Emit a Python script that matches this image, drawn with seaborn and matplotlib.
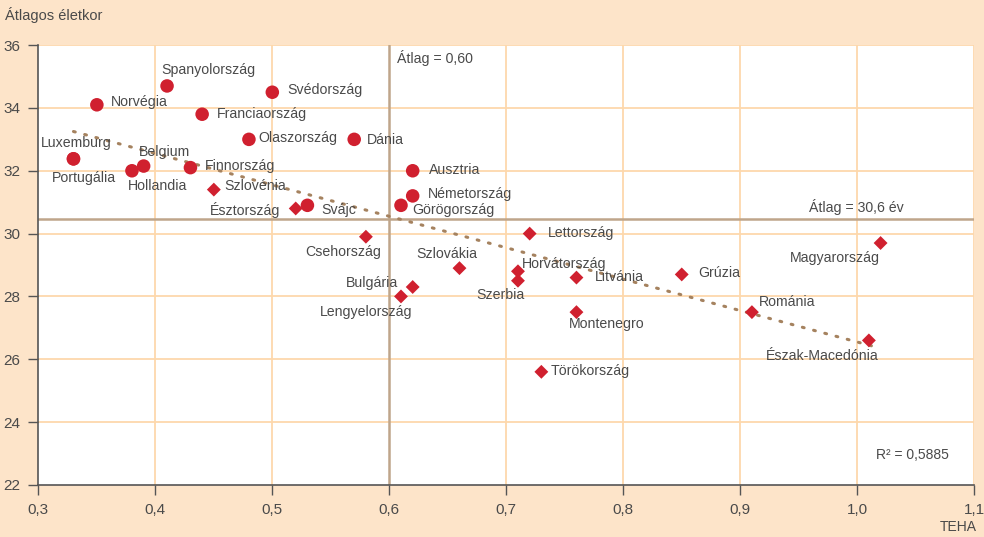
import numpy as np
import pandas as pd
import matplotlib
matplotlib.use("Agg")
import matplotlib.pyplot as plt
import seaborn as sns

# Körrel jelölt országok
circle_names = ["Norvégia", "Spanyolország", "Svédország", "Franciaország", "Olaszország",
                "Dánia", "Luxemburg", "Portugália", "Belgium", "Hollandia", "Finnország",
                "Svájc", "Ausztria", "Németország", "Görögország"]
circle_teha = [0.35, 0.41, 0.50, 0.44, 0.48, 0.57, 0.33, 0.33, 0.39, 0.38, 0.43,
               0.53, 0.62, 0.62, 0.61]
circle_age = [34.1, 34.7, 34.5, 33.8, 33.0, 33.0, 32.38, 32.38, 32.15, 32.0, 32.1,
              30.9, 32.0, 31.2, 30.9]

# Rombusszal jelölt országok
diamond_names = ["Szlovénia", "Észtország", "Csehország", "Lettország", "Szlovákia",
                 "Horvátország", "Szerbia", "Bulgária", "Lengyelország", "Litvánia",
                 "Montenegro", "Grúzia", "Magyarország", "Románia", "Észak-Macedónia",
                 "Törökország"]
diamond_teha = [0.45, 0.52, 0.58, 0.72, 0.66, 0.71, 0.71, 0.62, 0.61, 0.76,
                0.76, 0.85, 1.02, 0.91, 1.01, 0.73]
diamond_age = [31.4, 30.8, 29.9, 30.0, 28.9, 28.8, 28.5, 28.3, 28.0, 28.6,
               27.5, 28.7, 29.7, 27.5, 26.6, 25.6]

mean_teha = 0.60
mean_age_line = 30.45
trend_x = [0.33, 1.015]
trend_y = [33.25, 26.4]

x_ticks = [0.3, 0.4, 0.5, 0.6, 0.7, 0.8, 0.9, 1.0, 1.1]
x_labels = ["0,3", "0,4", "0,5", "0,6", "0,7", "0,8", "0,9", "1,0", "1,1"]
y_ticks = [22, 24, 26, 28, 30, 32, 34, 36]

# címke eltolások (pixel), igazítás
label_pos = {
    "Norvégia": (14, 3, "left"), "Spanyolország": (-6, 16, "left"),
    "Svédország": (15, 2, "left"), "Franciaország": (15, 0, "left"),
    "Olaszország": (9, 1, "left"), "Dánia": (13, -1, "left"),
    "Luxemburg": (-33, 16, "left"), "Portugália": (-22, -19, "left"),
    "Belgium": (-5, 14, "left"), "Hollandia": (-4, -15, "left"),
    "Finnország": (14, 2, "left"), "Svájc": (14, -5, "left"),
    "Ausztria": (16, 1, "left"), "Németország": (15, 2, "left"),
    "Görögország": (11, -5, "left"), "Szlovénia": (10, 4, "left"),
    "Észtország": (-15, -2, "right"), "Csehország": (-23, -15, "center"),
    "Lettország": (18, 1, "left"), "Szlovákia": (-13, 14, "center"),
    "Horvátország": (4, 7, "left"), "Szerbia": (-18, -14, "center"),
    "Bulgária": (-15, 4, "right"), "Lengyelország": (-35, -16, "center"),
    "Litvánia": (18, 1, "left"), "Montenegro": (30, -12, "center"),
    "Grúzia": (17, 1, "left"), "Magyarország": (-1, -15, "right"),
    "Románia": (7, 10, "left"), "Észak-Macedónia": (-47, -16, "center"),
    "Törökország": (9, 1, "left"),
}

df = pd.concat([
    pd.DataFrame({"orszag": circle_names, "teha": circle_teha, "kor": circle_age, "jel": "kor"}),
    pd.DataFrame({"orszag": diamond_names, "teha": diamond_teha, "kor": diamond_age, "jel": "romb"}),
], ignore_index=True)

BG = "#FDE4C9"
GRID = "#FDD8AC"
MEANC = "#BFA58A"
RED = "#D0202F"
TXT = "#4A4A4A"

sns.set_style("white")
plt.rcParams["font.family"] = ["Liberation Sans", "DejaVu Sans"]

fig = plt.figure(figsize=(9.84, 5.37), dpi=100, facecolor=BG)
ax = fig.add_axes([0.039, 0.097, 0.951, 0.819])
ax.set_facecolor("white")

ax.set_xlim(0.3, 1.1)
ax.set_ylim(22, 36)
ax.set_xticks(x_ticks)
ax.set_xticklabels(x_labels)
ax.set_yticks(y_ticks)
for t in x_ticks[1:]:
    if abs(t - mean_teha) > 1e-6:
        ax.axvline(t, color=GRID, lw=1.3, zorder=0)
for t in y_ticks[1:]:
    ax.axhline(t, color=GRID, lw=1.3, zorder=0)

ax.axvline(mean_teha, color=MEANC, lw=1.8, zorder=1)
ax.axhline(mean_age_line, color=MEANC, lw=1.8, zorder=1)

ax.plot(trend_x, trend_y, color="#A5825F", lw=2.2, ls=(0, (0.6, 3.2)),
        dash_capstyle="round", zorder=2)

sns.scatterplot(data=df, x="teha", y="kor", style="jel", markers={"kor": "o", "romb": "D"},
                size="jel", sizes={"kor": 95, "romb": 50}, color=RED, edgecolor="none",
                legend=False, ax=ax, zorder=3)

for _, r in df.iterrows():
    dx, dy, ha = label_pos[r["orszag"]]
    ax.annotate(r["orszag"], (r["teha"], r["kor"]), xytext=(dx, dy),
                textcoords="offset pixels", ha=ha, va="center",
                fontsize=10.2, color=TXT, zorder=4)

ax.text(0.607, 35.6, "Átlag = 0,60", fontsize=10.2, color=TXT, va="center")
ax.text(1.04, 30.85, "Átlag = 30,6 év", fontsize=10.2, color=TXT, va="center", ha="right")
ax.text(1.078, 22.95, "R² = 0,5885", fontsize=10, color=TXT, va="center", ha="right")

for s in ["top", "right"]:
    ax.spines[s].set_visible(False)
for s in ["left", "bottom"]:
    ax.spines[s].set_color("#555555")
    ax.spines[s].set_linewidth(1.2)

ax.tick_params(axis="both", direction="out", length=7, width=1, color="#555555",
               labelcolor=TXT, labelsize=11, left=True, bottom=True)
ax.tick_params(axis="y", pad=6)
ax.tick_params(axis="x", pad=6)

ax.set_xlabel("")
ax.set_ylabel("")
fig.text(0.005, 0.972, "Átlagos életkor", fontsize=10.5, color=TXT, va="center")
fig.text(0.993, 0.018, "TEHA", fontsize=10, color=TXT, va="center", ha="right")

fig.savefig("out.png", dpi=100, facecolor=BG)
